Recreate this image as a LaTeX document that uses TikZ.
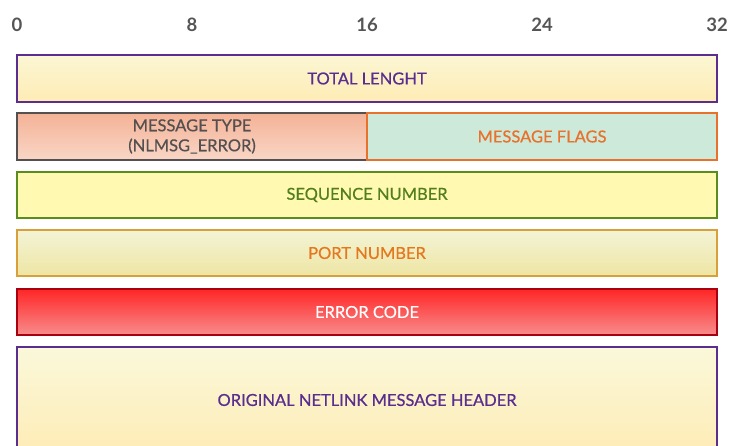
\documentclass[tikz,border=0pt]{standalone}
\usepackage{fontspec}
\setmainfont{Lato}
\newfontfamily\fieldfont[FakeBold=0.6]{Lato}
\definecolor{hdrgray}{HTML}{555555}
\definecolor{msgpurple}{HTML}{5A2D8F}
\definecolor{typegray}{HTML}{555050}
\definecolor{flagorange}{HTML}{E8712C}
\definecolor{seqgreen}{HTML}{5B8C1E}
\definecolor{portgold}{HTML}{D9A03A}
\definecolor{porttext}{HTML}{E5771F}
\definecolor{errred}{HTML}{A8000F}
\tikzset{
  field/.style={draw,line width=2pt,inner sep=0pt,minimum height=47pt,
    font=\fieldfont\fontsize{16.5}{20}\selectfont,align=center},
  bitlabel/.style={text=hdrgray,font=\fontsize{18.5}{20}\selectfont\bfseries}
}
\begin{document}
\begin{tikzpicture}[x=1pt,y=-1pt]
  \clip (0,0) rectangle (731,446);
  % bit offsets
  \foreach \b in {0,8,16,24,32}
    \node[bitlabel] (bit\b) at ({17+\b*21.875},25) {\b};
  % netlink error message
  \node[field,minimum width=700pt,draw=msgpurple,text=msgpurple,
        top color={rgb,255:red,251;green,246;blue,212},bottom color={rgb,255:red,254;green,236;blue,180}] (total) at (367,78.5) {TOTAL LENGHT};
  \node[field,minimum width=350pt,draw=typegray,text=typegray,
        top color={rgb,255:red,244;green,178;blue,150},bottom color={rgb,255:red,249;green,214;blue,198}] (type) at (192,136.5) {MESSAGE TYPE\\(NLMSG\_ERROR)};
  \node[field,minimum width=350pt,draw=flagorange,fill={rgb,255:red,205;green,233;blue,218},
        text=flagorange] (flags) at (542,136.5) {MESSAGE FLAGS};
  \node[field,minimum width=700pt,minimum height=46pt,draw=seqgreen,
        fill={rgb,255:red,255;green,249;blue,178},text=seqgreen!90!black] (seq) at (367,195) {SEQUENCE NUMBER};
  \node[field,minimum width=700pt,minimum height=46pt,draw=portgold,text=porttext,
        top color={rgb,255:red,243;green,244;blue,214},bottom color={rgb,255:red,238;green,229;blue,163}] (port) at (367,253) {PORT NUMBER};
  \node[field,minimum width=700pt,minimum height=46pt,draw=errred,text=white,
        top color={rgb,255:red,255;green,38;blue,38},bottom color={rgb,255:red,248;green,140;blue,140}] (err) at (367,312) {ERROR CODE};
  \node[field,minimum width=700pt,minimum height=106pt,draw=msgpurple,text=msgpurple,
        top color={rgb,255:red,250;green,248;blue,218},bottom color={rgb,255:red,254;green,236;blue,182}] (orig) at (367,400) {ORIGINAL NETLINK MESSAGE HEADER};
\end{tikzpicture}
\end{document}
